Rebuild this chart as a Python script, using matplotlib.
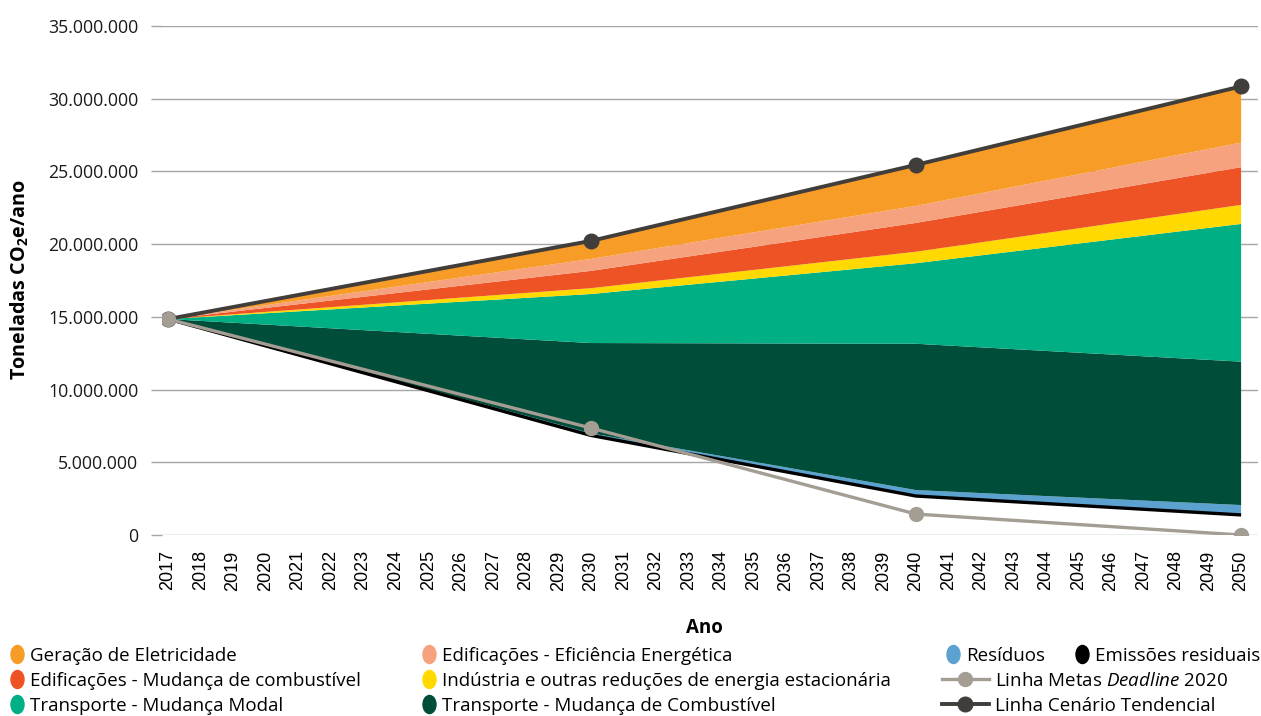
import numpy as np
import matplotlib
matplotlib.use("Agg")
import matplotlib.pyplot as plt
from matplotlib.lines import Line2D
from matplotlib.markers import MarkerStyle
from matplotlib.transforms import Affine2D
from matplotlib.ticker import FuncFormatter

plt.rcParams['font.family'] = ['Open Sans', 'DejaVu Sans']
plt.rcParams['mathtext.fontset'] = 'custom'
plt.rcParams['mathtext.it'] = 'Open Sans:italic'
plt.rcParams['mathtext.rm'] = 'Open Sans'
plt.rcParams['mathtext.default'] = 'regular'

# dados (milhões de tCO2e), anos-chave
anos = [2017, 2030, 2040, 2050]
emissoes_residuais = [14.85, 6.85, 2.68, 1.38]
residuos = [0.0, 0.15, 0.41, 0.68]
transp_combustivel = [0.0, 6.20, 10.06, 9.86]
transp_modal = [0.0, 3.37, 5.54, 9.47]
industria = [0.0, 0.40, 0.79, 1.31]
edif_combustivel = [0.0, 1.19, 1.98, 2.59]
edif_eficiencia = [0.0, 0.82, 1.17, 1.69]
geracao = [0.0, 1.24, 2.82, 3.87]
linha_tendencial = [14.85, 20.22, 25.45, 30.85]
linha_metas = [14.85, 7.36, 1.44, 0.0]

cores = {
    'geracao': '#F79C27',
    'edif_ef': '#F6A27F',
    'edif_comb': '#EE5326',
    'industria': '#FFD900',
    'modal': '#00AF84',
    'transp_comb': '#004D3A',
    'residuos': '#5BA2D1',
    'residuais': '#000000',
    'metas': '#A39D94',
    'tend': '#403D3A',
}

W, H = 1261, 716
fig = plt.figure(figsize=(W / 100, H / 100), dpi=100)
ax = fig.add_axes([162 / W, (716 - 535) / H, (1258 - 162) / W, (535 - 26) / H])

M = 1e6
x = np.array(anos)
camadas = [emissoes_residuais, residuos, transp_combustivel, transp_modal,
           industria, edif_combustivel, edif_eficiencia, geracao]
camadas = [np.array(c) * M for c in camadas]
cores_camadas = ['none', cores['residuos'], cores['transp_comb'], cores['modal'],
                 cores['industria'], cores['edif_comb'], cores['edif_ef'], cores['geracao']]
ax.stackplot(x, *camadas, colors=cores_camadas, linewidth=0, zorder=2)
ax.plot(x, np.array(emissoes_residuais) * M, color='black', lw=2.4, zorder=3,
        solid_capstyle='butt')

ax.plot(x, np.array(linha_tendencial) * M, color=cores['tend'], lw=2.8, marker='o',
        markersize=10.5, zorder=4)
ax.plot(x, np.array(linha_metas) * M, color=cores['metas'], lw=2.4, marker='o',
        markersize=10, zorder=5)

ax.set_xlim(2016.815, 2050.52)
ax.set_ylim(0, 35 * M)
ax.set_yticks(np.arange(0, 36, 5) * M)
ax.yaxis.set_major_formatter(FuncFormatter(lambda v, p: f"{int(round(v)):,}".replace(',', '.')))
ax.set_xticks(range(2017, 2051))
ax.set_xticklabels([str(a) for a in range(2017, 2051)], rotation=90,
                   family=['Liberation Sans'], fontsize=13)
ax.tick_params(axis='x', length=0, pad=11)
ax.tick_params(axis='y', length=8, color='#A6A6A6', width=1, pad=9, labelsize=12.8,
               labelcolor='#1a1a1a')
ax.grid(axis='y', color='#A6A6A6', lw=1, zorder=0)
ax.set_axisbelow(True)
for s in ax.spines.values():
    s.set_visible(False)

ax.set_ylabel('Toneladas CO$_2$e/ano', fontweight='bold', fontsize=14.2)
ax.yaxis.set_label_coords((31 - 162) / 1096, (535 - 280) / 509)
ax.set_xlabel('Ano', fontweight='bold', fontsize=13.5)
ax.xaxis.set_label_coords((704 - 162) / 1096, (535 - 618) / 509)

# legenda em posições livres
fs = 13.5
fs_px = fs * 100 / 72
elipse = MarkerStyle('o', transform=Affine2D().scale(0.72, 1.0))


def entrada(handle, rotulo, x_texto, y, hl):
    esquerda = x_texto - (hl + 0.3) * fs_px
    fig.legend([handle], [rotulo], loc='center left',
               bbox_to_anchor=(esquerda / W, 1 - y / H), frameon=False,
               borderpad=0, borderaxespad=0, handlelength=hl,
               handletextpad=0.3, fontsize=fs)


def ponto(cor):
    return Line2D([], [], linestyle='none', marker=elipse, markersize=13,
                  markerfacecolor=cor, markeredgecolor=cor)


def linha(cor, lw, ms):
    return Line2D([], [], color=cor, lw=lw, marker='o', markersize=ms)


linhas_y = [656, 681, 706]
entrada(ponto(cores['geracao']), 'Geração de Eletricidade', 30, linhas_y[0], 0.75)
entrada(ponto(cores['edif_comb']), 'Edificações - Mudança de combustível', 30, linhas_y[1], 0.75)
entrada(ponto(cores['modal']), 'Transporte - Mudança Modal', 30, linhas_y[2], 0.75)
entrada(ponto(cores['edif_ef']), 'Edificações - Eficiência Energética', 442, linhas_y[0], 0.75)
entrada(ponto(cores['industria']), 'Indústria e outras reduções de energia estacionária', 442, linhas_y[1], 0.75)
entrada(ponto(cores['transp_comb']), 'Transporte - Mudança de Combustível', 442, linhas_y[2], 0.75)
entrada(ponto(cores['residuos']), 'Resíduos', 966, linhas_y[0], 0.75)
entrada(ponto(cores['residuais']), 'Emissões residuais', 1095, linhas_y[0], 0.75)
entrada(linha(cores['metas'], 2.4, 10), 'Linha Metas $\\mathit{Deadline}$ 2020', 995, linhas_y[1], 2.55)
entrada(linha(cores['tend'], 2.8, 10.5), 'Linha Cenário Tendencial', 995, linhas_y[2], 2.55)

fig.savefig('out.png', dpi=100)
